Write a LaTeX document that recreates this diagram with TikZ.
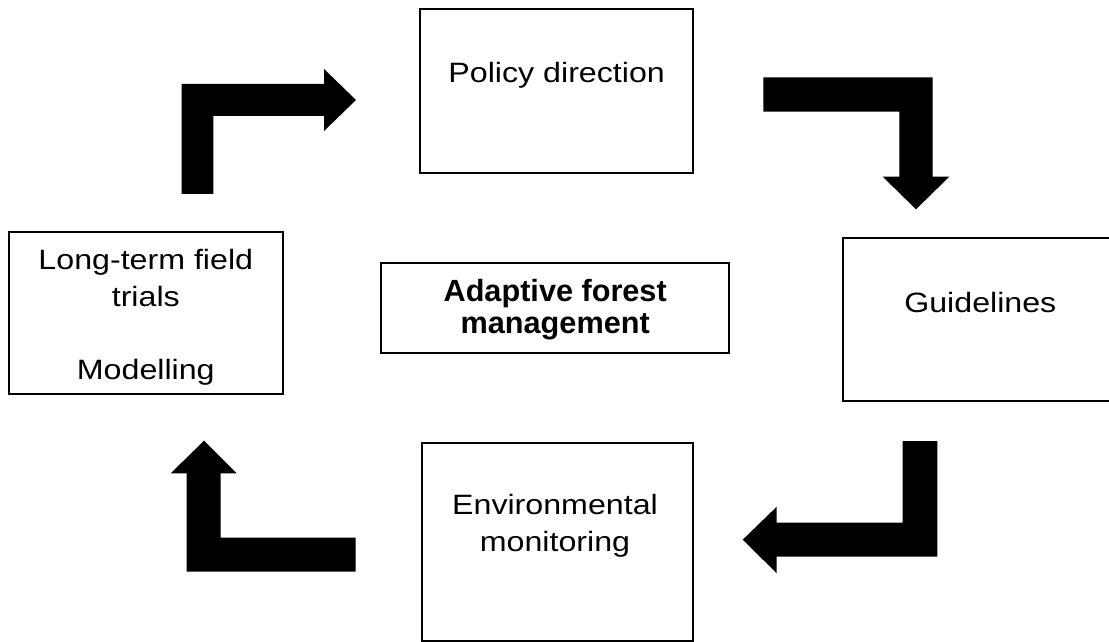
\documentclass[tikz,border=0pt]{standalone}
\usepackage{fontspec}
\setmainfont{Liberation Sans}
\newfontfamily\widesans{Liberation Sans}[FakeStretch=1.15]
\usetikzlibrary{fit}

\tikzset{
  box/.style={draw, line width=1.4pt, inner sep=0pt},
  boxtext/.style={font=\widesans\fontsize{19.9}{26}\selectfont, align=center, anchor=base, inner sep=0pt},
  centretext/.style={font=\bfseries\fontsize{21.8}{23.1}\selectfont, align=center, anchor=base, inner sep=0pt},
}

\begin{document}
\begin{tikzpicture}[x=0.025cm, y=-0.025cm]
	\useasboundingbox (0,0) rectangle (1109,642);
	\clip (0,0) rectangle (1109,642);

	% Define boxes
	\node [box, fit={(420,9.3) (693.3,172.7)}] (policy) {};
	\node [box, fit={(842.7,238.3) (1125,400.7)}] (guide) {};
	\node [box, fit={(421.7,443.3) (693.3,640.7)}] (monitor) {};
	\node [box, fit={(9,232.3) (282.7,394)}] (trials) {};
	\node [box, fit={(381,263.3) (729.3,353.3)}] (centre) {};

	% Texts in the boxes (base is the last line)
	\node [boxtext] (policy text) at (556.7,82.7) {Policy direction};
	\node [boxtext] (guide text) at (980.3,312.5) {Guidelines};
	\node [boxtext] (monitor text) at (555,551.5) {Environmental\\monitoring};
	\node [boxtext] (trials text) at (145.8,379.3) {Long-term field\\trials\\[26pt]Modelling};
	\node [centretext] (centre text) at (555.2,333.5) {Adaptive forest\\management};

	% Bent arrows round the cycle
	\fill (181.7,194) -- (181.7,84) -- (324,84) -- (324,69) -- (356,100)
		-- (324,131) -- (324,116) -- (213.3,116) -- (213.3,194) -- cycle;
	\fill (763.3,77.3) -- (932.7,77.3) -- (932.7,176.7) -- (949.3,176.7) -- (916,209.3)
		-- (882.7,176.7) -- (899.3,176.7) -- (899.3,111.7) -- (763.3,111.7) -- cycle;
	\fill (902.7,441) -- (937.3,441) -- (937.3,556.7) -- (776.7,556.7) -- (776.7,573.3)
		-- (742.7,539.7) -- (776.7,506.7) -- (776.7,522.7) -- (902.7,522.7) -- cycle;
	\fill (355.7,537.7) -- (355.7,571.7) -- (186.7,571.7) -- (186.7,473.3) -- (170.7,473.3)
		-- (204,440.7) -- (236.7,473.3) -- (220.7,473.3) -- (220.7,537.7) -- cycle;
\end{tikzpicture}
\end{document}
